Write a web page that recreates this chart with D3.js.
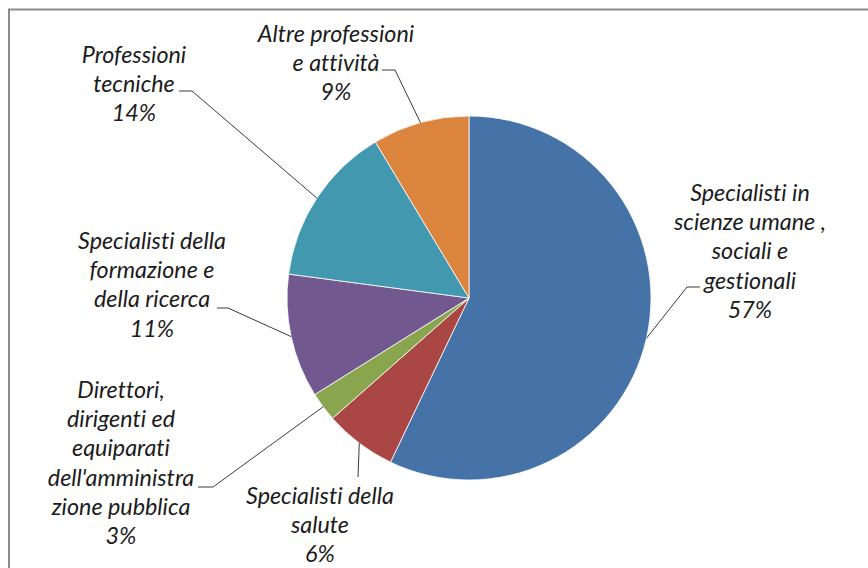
<!DOCTYPE html>
<html>
<head>
<meta charset="utf-8">
<script src="https://cdn.jsdelivr.net/npm/d3@7"></script>
<style>
  html, body { margin: 0; padding: 0; background: #fff; }
  svg { display: block; }
  text { font-variant-ligatures: none; font-feature-settings: "liga" 0, "clig" 0, "dlig" 0; }
</style>
</head>
<body>
<svg id="chart" width="868" height="568"></svg>
<script>
// ---- data ----
const categories = [
  "Specialisti in scienze umane , sociali e gestionali",
  "Specialisti della salute",
  "Direttori, dirigenti ed equiparati dell'amministrazione pubblica",
  "Specialisti della formazione e della ricerca",
  "Professioni tecniche",
  "Altre professioni e attività"
];
const values = [57.1, 6.4, 2.6, 11.0, 14.3, 8.6];
const percentLabels = ["57%", "6%", "3%", "11%", "14%", "9%"];
const labelLines = [
  ["Specialisti in", "scienze umane ,", "sociali e", "gestionali"],
  ["Specialisti della", "salute"],
  ["Direttori,", "dirigenti ed", "equiparati", "dell'amministra", "zione pubblica"],
  ["Specialisti della", "formazione e", "della ricerca"],
  ["Professioni", "tecniche"],
  ["Altre professioni", "e attività"]
];
const colors = ["#4572A7", "#AA4643", "#89A54E", "#71588F", "#4198AF", "#DB843D"];

// ---- layout (label placement) ----
const cx = 469, cy = 298, R = 182;
const lineH = 29.2;
const labelLayout = [
  { x: 750, y: 201, leader: [[687, 287], [700, 287]] },
  { x: 320, y: 504, leader: [[358, 477]] },
  { x: 121, y: 398, leader: [[213, 487], [198, 487]] },
  { x: 152, y: 249, leader: [[228, 308], [217, 308]] },
  { x: 134, y: 63,  leader: [[192, 91], [179, 91]] },
  { x: 336, y: 42,  leader: [[395, 70], [382, 70]] }
];

const svg = d3.select("#chart");

// frame
svg.append("path")
  .attr("d", "M9,580 L9,9.5 L880,9.5")
  .attr("fill", "none")
  .attr("stroke", "#8a8a8a")
  .attr("stroke-width", 2);

const pie = d3.pie().sort(null).value(d => d);
const arcs = pie(values);
const arc = d3.arc().innerRadius(0).outerRadius(R);

const g = svg.append("g").attr("transform", `translate(${cx},${cy})`);
g.selectAll("path.slice")
  .data(arcs)
  .join("path")
  .attr("class", "slice")
  .attr("d", arc)
  .attr("fill", (d, i) => colors[i])
  .attr("stroke", "#ffffff")
  .attr("stroke-width", 0.8)
  .attr("stroke-linejoin", "round");

// leader lines
arcs.forEach((a, i) => {
  const mid = (a.startAngle + a.endAngle) / 2;
  const ax = cx + R * Math.sin(mid);
  const ay = cy - R * Math.cos(mid);
  const pts = [[ax, ay]].concat(labelLayout[i].leader);
  svg.append("path")
    .attr("d", d3.line()(pts))
    .attr("fill", "none")
    .attr("stroke", "#3a3a3a")
    .attr("stroke-width", 1);
});

// labels
const fontFamily = "Lato, 'Open Sans', 'Noto Sans', sans-serif";
// fit font size to the reference width of "Specialisti della" (~148px)
const probe = svg.append("text")
  .attr("font-family", fontFamily)
  .attr("font-style", "italic")
  .attr("font-size", 20)
  .text("Specialisti della");
const w20 = probe.node().getComputedTextLength();
probe.remove();
const fontSize = Math.max(14, Math.min(26, 20 * 148 / (w20 || 148)));

labelLines.forEach((lines, i) => {
  const L = labelLayout[i];
  const t = svg.append("text")
    .attr("font-family", fontFamily)
    .attr("font-style", "italic")
    .attr("font-size", fontSize)
    .attr("fill", "#1c1c1c")
    .attr("text-anchor", "middle");
  const all = lines.concat([percentLabels[i]]);
  all.forEach((s, k) => {
    t.append("tspan")
      .attr("x", L.x)
      .attr("y", L.y + k * lineH)
      .text(s);
  });
});
</script>
</body>
</html>
